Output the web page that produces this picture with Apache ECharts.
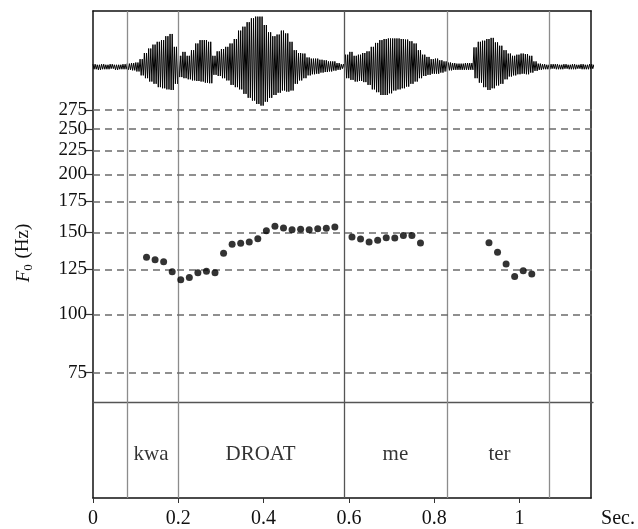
<!DOCTYPE html>
<html><head><meta charset="utf-8">
<script src="https://cdn.jsdelivr.net/npm/echarts@6/dist/echarts.min.js"></script>
<style>html,body{margin:0;padding:0;background:#fff}#c{width:638px;height:529px}</style>
</head><body><div id="c"></div>
<script>
// ---- data ----
const xTicks = [0, 0.2, 0.4, 0.6, 0.8, 1];
const f0Ticks = [75, 100, 125, 150, 175, 200, 225, 250, 275];
const boundaries = [0.0758, 0.1957, 0.587, 0.826, 1.073];
const segmentLabels = ['kwa', 'DROAT', 'me', 'ter'];
const f0Times = [0.125,0.145,0.165,0.185,0.205,0.225,0.245,0.265,0.285,0.305,0.325,0.345,0.365,0.385,0.405,0.425,0.445,0.465,0.485,0.505,0.525,0.545,0.565,
  0.605,0.625,0.645,0.665,0.685,0.705,0.725,0.745,0.765,
  0.925,0.945,0.965,0.985,1.005,1.025];
const f0Values = [132.7,131.1,129.8,123.6,118.8,120.0,123.0,123.8,123.0,135.3,141.5,142.2,143.1,145.5,151.3,154.7,153.4,152.1,152.4,152.1,152.9,153.2,154.1,
  146.7,145.3,143.1,144.3,146.2,146.0,147.7,147.7,142.4,
  142.6,136.0,128.4,120.6,124.2,122.2];
// waveform envelope, one reading every 10 ms from 0 s
const waveStep = 0.01;
const waveUpper = [0.05,0.04,0.05,0.04,0.05,0.04,0.04,0.05,0.06,0.07,
  0.08,0.14,0.25,0.33,0.40,0.45,0.48,0.55,0.59,0.36,
  0.20,0.27,0.20,0.30,0.42,0.48,0.48,0.45,0.20,0.28,
  0.32,0.36,0.42,0.50,0.65,0.72,0.80,0.87,0.90,0.90,
  0.75,0.62,0.55,0.58,0.65,0.60,0.45,0.30,0.25,0.24,
  0.17,0.15,0.15,0.13,0.12,0.10,0.10,0.07,0.05,0.22,
  0.27,0.20,0.22,0.25,0.28,0.36,0.43,0.48,0.50,0.51,
  0.51,0.51,0.50,0.49,0.46,0.42,0.30,0.22,0.18,0.14,
  0.15,0.12,0.10,0.08,0.07,0.06,0.06,0.07,0.07,0.35,
  0.45,0.47,0.50,0.52,0.44,0.38,0.30,0.24,0.20,0.22,
  0.24,0.23,0.20,0.10,0.06,0.05,0.04,0.05,0.05,0.04,
  0.05,0.04,0.05,0.04,0.05,0.04,0.05,0.04];
const waveLower = [0.04,0.05,0.04,0.04,0.03,0.05,0.04,0.04,0.05,0.06,
  0.08,0.15,0.20,0.26,0.30,0.36,0.38,0.40,0.41,0.30,
  0.18,0.20,0.22,0.24,0.25,0.26,0.28,0.29,0.14,0.16,
  0.20,0.24,0.32,0.36,0.40,0.48,0.55,0.60,0.66,0.69,
  0.62,0.55,0.50,0.46,0.42,0.44,0.42,0.30,0.24,0.20,
  0.15,0.13,0.12,0.10,0.09,0.08,0.065,0.05,0.03,0.20,
  0.23,0.26,0.25,0.27,0.32,0.40,0.45,0.50,0.50,0.47,
  0.42,0.40,0.38,0.35,0.30,0.26,0.20,0.16,0.14,0.12,
  0.12,0.10,0.08,0.06,0.05,0.05,0.05,0.05,0.05,0.20,
  0.28,0.36,0.41,0.38,0.33,0.30,0.22,0.17,0.15,0.13,
  0.12,0.13,0.10,0.07,0.05,0.04,0.04,0.03,0.04,0.04,
  0.03,0.04,0.04,0.03,0.04,0.04,0.03,0.04];

// ---- build ----
const X_MAX = 1.168;
const SERIF = 'Liberation Serif';
const L = 93, R = 638 - 593;
const wave = [];
const n = Math.min(waveUpper.length, waveLower.length);
for (let i = 0; i < n; i++) {
  const t = i * waveStep;
  // two pen strokes per reading, drawn up to the reading's top and down to its bottom
  for (let k = 0; k < 2; k++) {
    wave.push([t + k * waveStep / 2, waveUpper[i]]);
    wave.push([t + k * waveStep / 2 + waveStep / 4, -waveLower[i]]);
  }
}
const f0Data = f0Times.map((t, i) => [t, f0Values[i]]);
const mids = [];
for (let i = 0; i < segmentLabels.length; i++) mids.push([(boundaries[i] + boundaries[i + 1]) / 2, 0.46]);

const hiddenX = (g) => ({ type: 'value', gridIndex: g, min: 0, max: X_MAX, show: false });

const option = {
  animation: false,
  backgroundColor: '#fff',
  grid: [
    { left: L, right: R, top: 11, height: 112 },          // waveform
    { left: L, right: R, top: 105, height: 296 },         // F0
    { left: L, right: R, top: 402, height: 97 },          // tier
    { left: L, right: R, top: 11, height: 488 }           // frame
  ],
  xAxis: [
    hiddenX(0),
    hiddenX(1),
    { type: 'value', gridIndex: 2, min: 0, max: X_MAX, position: 'top',
      axisLine: { show: true, onZero: false, lineStyle: { color: '#555', width: 1.3 } },
      axisTick: { show: false }, axisLabel: { show: false }, splitLine: { show: false } },
    { type: 'value', gridIndex: 3, min: 0, max: X_MAX, position: 'bottom',
      name: 'Sec.', nameLocation: 'end', nameGap: 10,
      nameTextStyle: { fontFamily: SERIF, fontSize: 20, color: '#111', verticalAlign: 'top', padding: [11, 0, 0, 0] },
      axisLine: { show: true, onZero: false, lineStyle: { color: '#111', width: 1.5 } },
      axisTick: { show: true, inside: false, length: 5, customValues: xTicks, lineStyle: { color: '#333' } },
      axisLabel: { show: true, customValues: xTicks, margin: 11, fontFamily: SERIF, fontSize: 20, color: '#111' },
      splitLine: { show: false } },
    { type: 'value', gridIndex: 3, min: 0, max: X_MAX, position: 'top',
      axisLine: { show: true, onZero: false, lineStyle: { color: '#111', width: 1.5 } },
      axisTick: { show: false }, axisLabel: { show: false }, splitLine: { show: false } }
  ],
  yAxis: [
    { type: 'value', gridIndex: 0, min: -1, max: 1, show: false },
    { type: 'log', gridIndex: 1, min: 65.19, max: 281.8, logBase: 10,
      name: '{i|F}{s|0} (Hz)', nameLocation: 'middle', nameRotate: 90, nameGap: 58,
      nameTextStyle: { fontFamily: SERIF, fontSize: 19, color: '#111',
        rich: { i: { fontStyle: 'italic', fontFamily: SERIF, fontSize: 19, color: '#111' },
                s: { fontFamily: SERIF, fontSize: 13, color: '#111', verticalAlign: 'bottom', padding: [10, 1, 0, 0] } } },
      axisLine: { show: false },
      axisTick: { show: true, inside: false, length: 7, customValues: f0Ticks, lineStyle: { color: '#333', width: 1.2 } },
      axisLabel: { show: true, customValues: f0Ticks, margin: 6, fontFamily: SERIF, fontSize: 19, color: '#111' },
      splitLine: { show: false } },
    { type: 'value', gridIndex: 2, min: 0, max: 1, show: false },
    { type: 'value', gridIndex: 3, min: 0, max: 1, position: 'left',
      axisLine: { show: true, onZero: false, lineStyle: { color: '#111', width: 1.5 } },
      axisTick: { show: false }, axisLabel: { show: false }, splitLine: { show: false } },
    { type: 'value', gridIndex: 3, min: 0, max: 1, position: 'right',
      axisLine: { show: true, onZero: false, lineStyle: { color: '#111', width: 1.5 } },
      axisTick: { show: false }, axisLabel: { show: false }, splitLine: { show: false } }
  ],
  series: [
    { type: 'line', xAxisIndex: 3, yAxisIndex: 3, data: [], silent: true, z: 1,
      markLine: { silent: true, symbol: ['none', 'none'], label: { show: false },
        data: boundaries.map((b, i) => ({ xAxis: b,
          lineStyle: { type: 'solid', width: 1.3, color: i === 2 ? '#555' : '#8c8c8c' } })) } },
    { type: 'scatter', xAxisIndex: 1, yAxisIndex: 1, data: f0Data, symbol: 'circle', symbolSize: 7,
      itemStyle: { color: '#000' }, z: 5, silent: true,
      markLine: { silent: true, symbol: ['none', 'none'], label: { show: false },
        lineStyle: { type: [7, 5], width: 1.5, color: '#6b6b6b' },
        data: f0Ticks.map(v => ({ yAxis: v })) } },
    { type: 'line', xAxisIndex: 0, yAxisIndex: 0, data: wave, symbol: 'none', silent: true, z: 4,
      lineStyle: { color: '#000', width: 1 } },
    { type: 'scatter', xAxisIndex: 2, yAxisIndex: 2, data: mids, symbolSize: 0, silent: true,
      itemStyle: { color: '#000' },
      label: { show: true, position: 'inside', formatter: p => segmentLabels[p.dataIndex],
        fontFamily: SERIF, fontSize: 21, color: '#000', textBorderWidth: 0 } }
  ]
};
const chart = echarts.init(document.getElementById('c'), null, { renderer: 'canvas' });
chart.setOption(option);
</script></body></html>
